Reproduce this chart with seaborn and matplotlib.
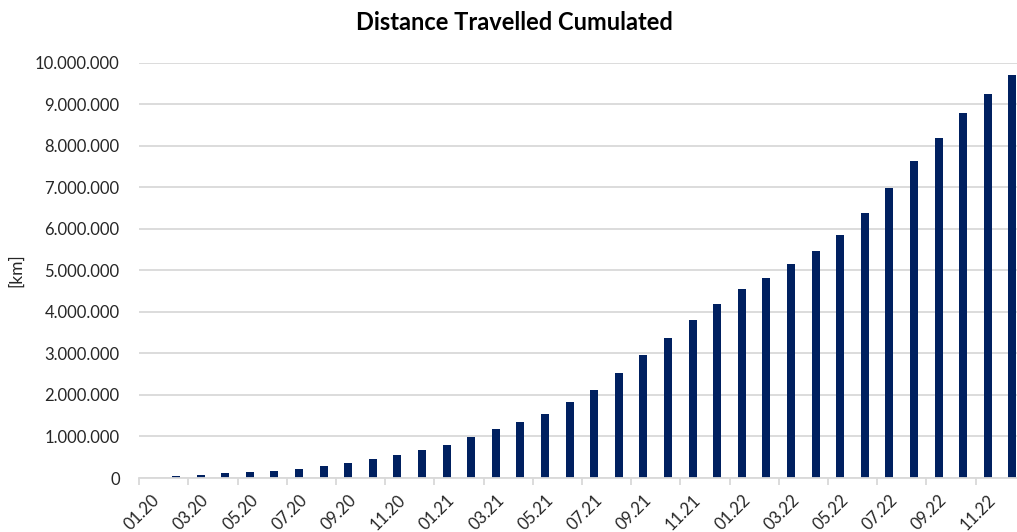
import matplotlib
matplotlib.use("Agg")
import matplotlib.pyplot as plt
import seaborn as sns
import numpy as np

# Monthly cumulated distance, 01.20 - 12.22
months = [f"{m:02d}.{y}" for y in (20, 21, 22) for m in range(1, 13)]
km = [0, 55000, 80000, 110000, 135000, 160000, 225000, 280000, 350000, 466000,
      563000, 684000, 804000, 980000, 1170000, 1360000, 1535000, 1820000,
      2130000, 2530000, 2970000, 3370000, 3800000, 4190000, 4555000, 4820000,
      5160000, 5470000, 5840000, 6380000, 6990000, 7640000, 8190000, 8800000,
      9250000, 9710000]

sns.set_theme(style="white")
plt.rcParams["font.family"] = ["Lato", "DejaVu Sans"]

fig = plt.figure(figsize=(10.17, 5.32), dpi=100)
ax = fig.add_axes([0.1368, 0.1015, 0.8708, 0.7806])

sns.barplot(x=months, y=km, color="#002060", saturation=1, width=0.32,
            linewidth=0, ax=ax)

ax.set_xlim(-0.5, 35.5)
ax.set_ylim(0, 10000000)
yt = np.arange(0, 10000001, 1000000)
ax.set_yticks(yt)
ax.set_yticklabels([f"{v:,.0f}".replace(",", ".") for v in yt], fontsize=12, color="#262626")
ax.tick_params(axis="y", length=0, pad=14)
ax.yaxis.grid(True, color="#d9d9d9", lw=1.3)
ax.set_axisbelow(True)

# labels at every other month, tick marks on the boundaries
pos = np.arange(0, 36, 2)
ax.set_xticks(pos)
ax.set_xticklabels([months[i] for i in pos], rotation=45, ha="right",
                   rotation_mode="anchor", fontsize=12, color="#262626")
ax.tick_params(axis="x", which="major", length=0, pad=10)
ax.set_xticks(pos - 0.5, minor=True)
ax.tick_params(axis="x", which="minor", length=5, width=1.3, color="#d9d9d9", bottom=True)

for s in ["top", "right", "left"]:
    ax.spines[s].set_visible(False)
ax.spines["bottom"].set_color("#d9d9d9")
ax.spines["bottom"].set_linewidth(1.3)

ax.set_ylabel("[km]", fontsize=12.5, color="#262626", labelpad=8)
fig.text(0.506, 0.958, "Distance Travelled Cumulated", ha="center", va="center",
         fontsize=17, fontweight="bold", color="black")

fig.savefig("out.png", dpi=100)
